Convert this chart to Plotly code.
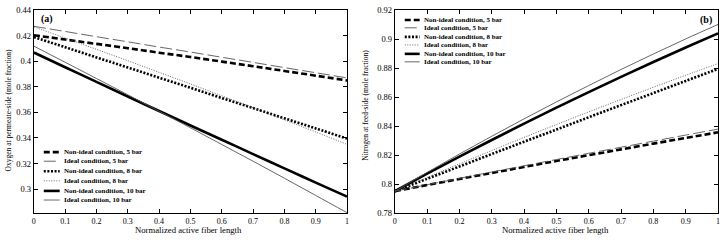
import plotly.graph_objects as go

W, H = 723, 240

# ---------------- data ----------------
x_len = [0.0, 0.1, 0.2, 0.3, 0.4, 0.5, 0.6, 0.7, 0.8, 0.9, 1.0]

# (a) Oxygen at permeate-side (mole fraction)
o2_nonideal_5 = [0.4205, 0.4171, 0.4137, 0.4103, 0.4068, 0.4034, 0.3998, 0.3962, 0.3925, 0.3888, 0.3850]
o2_ideal_5 = [0.4274, 0.4234, 0.4193, 0.4153, 0.4112, 0.4073, 0.4032, 0.3992, 0.3951, 0.3911, 0.3870]
o2_nonideal_8 = [0.4190, 0.4111, 0.4031, 0.3952, 0.3872, 0.3793, 0.3713, 0.3634, 0.3554, 0.3475, 0.3395]
o2_ideal_8 = [0.4270, 0.4183, 0.4094, 0.4005, 0.3914, 0.3823, 0.3730, 0.3637, 0.3542, 0.3447, 0.3350]
o2_nonideal_10 = [0.4069, 0.3954, 0.3839, 0.3725, 0.3611, 0.3498, 0.3386, 0.3274, 0.3162, 0.3051, 0.2941]
o2_ideal_10 = [0.4119, 0.3993, 0.3866, 0.3738, 0.3610, 0.3480, 0.3349, 0.3218, 0.3085, 0.2950, 0.2815]

# (b) Nitrogen at feed-side (mole fraction)
n2_nonideal_5 = [0.795, 0.7993, 0.8035, 0.8076, 0.8118, 0.8159, 0.8199, 0.8239, 0.8279, 0.8318, 0.8357]
n2_ideal_5 = [0.795, 0.7995, 0.8039, 0.8083, 0.8126, 0.8169, 0.8212, 0.8254, 0.8296, 0.8338, 0.8379]
n2_nonideal_8 = [0.795, 0.8036, 0.8121, 0.8207, 0.8292, 0.8376, 0.8461, 0.8545, 0.8628, 0.8712, 0.8795]
n2_ideal_8 = [0.795, 0.8045, 0.8139, 0.8231, 0.8322, 0.8411, 0.8498, 0.8584, 0.8668, 0.8751, 0.8832]
n2_nonideal_10 = [0.795, 0.8071, 0.8189, 0.8304, 0.8417, 0.8527, 0.8635, 0.8740, 0.8843, 0.8943, 0.9040]
n2_ideal_10 = [0.795, 0.8080, 0.8207, 0.8330, 0.8450, 0.8567, 0.8680, 0.8791, 0.8898, 0.9002, 0.9102]

series_names = [
    "Non-ideal condition, 5 bar",
    "Ideal condition, 5 bar",
    "Non-ideal condition, 8 bar",
    "Ideal condition, 8 bar",
    "Non-ideal condition, 10 bar",
    "Ideal condition, 10 bar",
]

x_ticks = [0, 0.1, 0.2, 0.3, 0.4, 0.5, 0.6, 0.7, 0.8, 0.9, 1]
x_ticktext = ["0", "0.1", "0.2", "0.3", "0.4", "0.5", "0.6", "0.7", "0.8", "0.9", "1"]
ya_ticks = [0.30, 0.32, 0.34, 0.36, 0.38, 0.40, 0.42, 0.44]
ya_ticktext = ["0.3", "0.32", "0.34", "0.36", "0.38", "0.4", "0.42", "0.44"]
yb_ticks = [0.78, 0.80, 0.82, 0.84, 0.86, 0.88, 0.90, 0.92]
yb_ticktext = ["0.78", "0.8", "0.82", "0.84", "0.86", "0.88", "0.9", "0.92"]

# ---------------- styles ----------------
styles = [
    dict(color="black", width=2.6, dash="6px,3px"),
    dict(color="#555555", width=0.9, dash="12px,4px"),
    dict(color="black", width=2.6, dash="2px,1.6px"),
    dict(color="#555555", width=0.9, dash="1px,1.5px"),
    dict(color="black", width=2.6, dash="solid"),
    dict(color="#555555", width=0.9, dash="solid"),
]

FONT = "Liberation Serif, Times New Roman, serif"

fig = go.Figure()

a_data = [o2_nonideal_5, o2_ideal_5, o2_nonideal_8, o2_ideal_8, o2_nonideal_10, o2_ideal_10]
b_data = [n2_nonideal_5, n2_ideal_5, n2_nonideal_8, n2_ideal_8, n2_nonideal_10, n2_ideal_10]

order = [0, 2, 4, 1, 3, 5]
for i in order:
    fig.add_trace(go.Scatter(x=x_len, y=a_data[i], mode="lines", line=dict(styles[i], shape="spline"),
                             name=series_names[i], showlegend=False, xaxis="x", yaxis="y"))
for i in order:
    fig.add_trace(go.Scatter(x=x_len, y=b_data[i], mode="lines", line=dict(styles[i], shape="spline"),
                             name=series_names[i], showlegend=False, xaxis="x2", yaxis="y2"))

def px_x(p):
    return p / W

def px_y(p):
    return 1 - p / H

ydom = [px_y(217), px_y(5.5)]

axis_common = dict(showgrid=False, zeroline=False, showline=True, linecolor="black", linewidth=1,
                   mirror="allticks", ticks="inside", ticklen=4, tickwidth=1, tickcolor="black",
                   tickfont=dict(family=FONT, size=8.5, color="black"))

xtickfont = dict(family=FONT, size=8, color="black")

fig.update_layout(
    width=W, height=H,
    margin=dict(l=0, r=0, t=0, b=0),
    paper_bgcolor="white", plot_bgcolor="white",
    showlegend=False,
    xaxis=dict(axis_common, domain=[px_x(32), px_x(347)], range=[0, 1], tickmode="array",
               tickvals=x_ticks, ticktext=x_ticktext, anchor="y", ticklabelstandoff=0, tickfont=xtickfont),
    yaxis=dict(axis_common, domain=ydom, range=[0.2813, 0.44], tickmode="array",
               tickvals=ya_ticks, ticktext=ya_ticktext, anchor="x"),
    xaxis2=dict(axis_common, domain=[px_x(395), px_x(720)], range=[0, 1], tickmode="array",
                tickvals=x_ticks, ticktext=x_ticktext, anchor="y2", ticklabelstandoff=0, tickfont=xtickfont),
    yaxis2=dict(axis_common, domain=ydom, range=[0.78, 0.92], tickmode="array",
                tickvals=yb_ticks, ticktext=yb_ticktext, anchor="x2"),
)

annotations = []
shapes = []

annotations.append(dict(text="Normalized active fiber length", x=px_x(188), y=px_y(234.5), xref="paper", yref="paper",
                        showarrow=False, font=dict(family=FONT, size=8.7, color="black"), xanchor="center", yanchor="middle"))
annotations.append(dict(text="Normalized active fiber length", x=px_x(557), y=px_y(234.5), xref="paper", yref="paper",
                        showarrow=False, font=dict(family=FONT, size=8.7, color="black"), xanchor="center", yanchor="middle"))
annotations.append(dict(text="Oxygen at permeate-side (mole fraction)", x=px_x(6), y=px_y(109), xref="paper", yref="paper",
                        showarrow=False, textangle=-90, font=dict(family=FONT, size=7.5, color="black"),
                        xanchor="center", yanchor="middle"))
annotations.append(dict(text="Nitrogen at feed-side (mole fraction)", x=px_x(366), y=px_y(104), xref="paper", yref="paper",
                        showarrow=False, textangle=-90, font=dict(family=FONT, size=7.5, color="black"),
                        xanchor="center", yanchor="middle"))
annotations.append(dict(text="<b>(a)</b>", x=px_x(37), y=px_y(15), xref="paper", yref="paper", showarrow=False,
                        font=dict(family=FONT, size=10, color="black"), xanchor="left", yanchor="middle"))
annotations.append(dict(text="<b>(b)</b>", x=px_x(716), y=px_y(16), xref="paper", yref="paper", showarrow=False,
                        font=dict(family=FONT, size=10, color="black"), xanchor="right", yanchor="middle"))

def add_legend(rows_y, x0, x1, xt):
    for i, yy in enumerate(rows_y):
        st = styles[i]
        shapes.append(dict(type="line", xref="paper", yref="paper", x0=px_x(x0), x1=px_x(x1),
                           y0=px_y(yy), y1=px_y(yy), line=dict(color=st["color"], width=st["width"], dash=st["dash"])))
        annotations.append(dict(text="<b>" + series_names[i] + "</b>", x=px_x(xt), y=px_y(yy), xref="paper", yref="paper",
                                showarrow=False, font=dict(family=FONT, size=7, color="black"),
                                xanchor="left", yanchor="middle"))

add_legend([153.5, 163, 173.5, 183.5, 194, 203.5], 42, 58, 60)
add_legend([15.7, 23.8, 33.3, 41.7, 51, 59.3], 405, 420, 422)

fig.update_layout(annotations=annotations, shapes=shapes)

fig.write_html("out.html", config={"displayModeBar": False},
               post_script="document.body.style.margin='0';document.body.style.padding='0';document.body.style.overflow='hidden';")
